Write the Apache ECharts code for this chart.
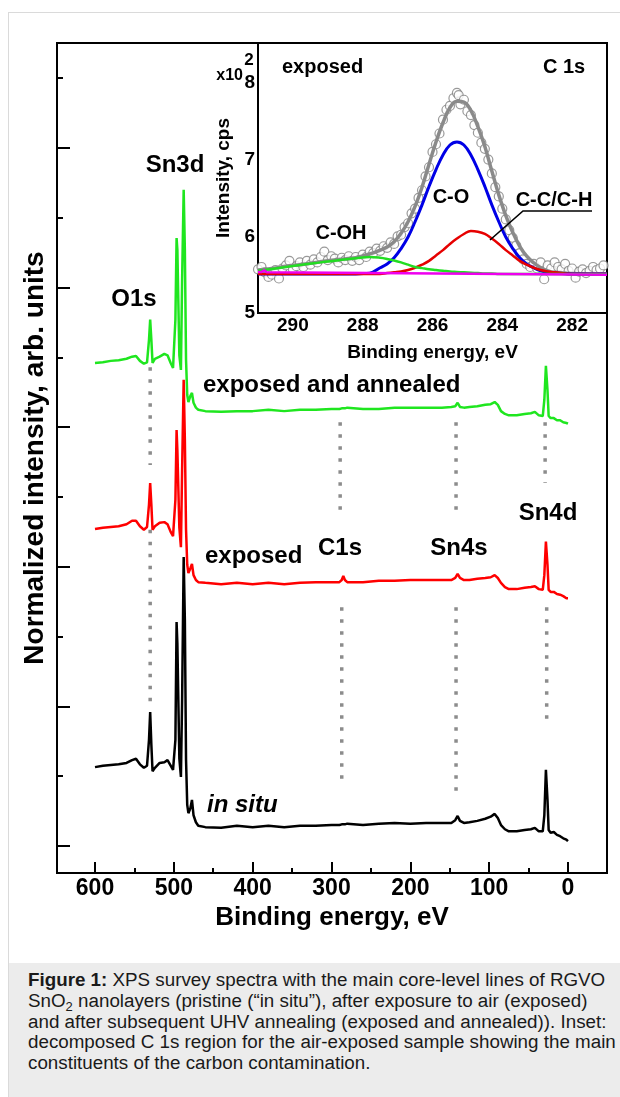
<!DOCTYPE html>
<html>
<head>
<meta charset="utf-8">
<script src="https://cdn.jsdelivr.net/npm/echarts@6/dist/echarts.min.js"></script>
<style>
  html, body { margin: 0; padding: 0; background: #fff; width: 620px; height: 1097px; overflow: hidden; }
  #frame { position: absolute; left: 8px; top: 12px; width: 640px; height: 1100px; border-top: 1px solid #dadada; border-left: 1px solid #dadada; }
  #chart { position: absolute; left: 0; top: 0; width: 620px; height: 960px; }
  #caption { position: absolute; left: 9px; top: 963px; width: 611px; height: 134px; background: #ececec;
    font-family: "Liberation Sans", Arial, sans-serif; font-size: 18.8px; line-height: 20.8px; color: #1a1a1a;
    padding: 7px 0 0 19px; box-sizing: border-box; white-space: nowrap; }
  #caption sub { font-size: 13px; vertical-align: -4px; line-height: 0; }
</style>
</head>
<body>
<div id="frame"></div>
<div id="chart"></div>
<div id="caption"><b>Figure 1:</b> XPS survey spectra with the main core-level lines of RGVO<br>SnO<sub>2</sub> nanolayers (pristine (“in situ”), after exposure to air (exposed)<br>and after subsequent UHV annealing (exposed and annealed)). Inset:<br>decomposed C 1s region for the air-exposed sample showing the main<br>constituents of the carbon contamination.</div>
<script>
// ---------------- DATA ----------------
// Survey spectra: binding energy (eV)
const energy = [600,590,580,570,560,553,548,543,538,534,531.5,530,528.5,527,524,518,512,508,504,501,498,496.5,495.5,493,491,489.5,487.5,486,484.5,483,481.5,479,477,475,472,469,460,440,420,400,380,360,340,320,300,290,287,285,283,280,260,240,220,200,180,160,148,143,140,137,132,125,115,105,98,93,89,85,80,75,65,55,47,42,37,32,30,28,26,24.5,22,18,14,10,6,2,0];
// normalized intensity (stacked, arb. units)
const inSitu = [1.13,1.15,1.16,1.17,1.19,1.23,1.25,1.17,1.12,1.15,1.52,1.92,1.45,1.07,1.12,1.19,1.20,1.23,1.15,1.09,1.52,3.21,2.90,1.25,0.99,2.09,4.14,3.24,1.23,0.59,0.47,0.54,0.66,0.44,0.34,0.29,0.27,0.26,0.29,0.27,0.29,0.27,0.29,0.29,0.30,0.30,0.31,0.31,0.31,0.32,0.30,0.32,0.33,0.32,0.33,0.33,0.33,0.37,0.43,0.36,0.33,0.34,0.36,0.39,0.42,0.46,0.40,0.30,0.24,0.21,0.21,0.23,0.24,0.26,0.21,0.21,0.44,1.09,0.66,0.23,0.19,0.20,0.16,0.14,0.11,0.09,0.07];
const exposed = [4.54,4.56,4.57,4.58,4.61,4.66,4.66,4.58,4.53,4.57,4.89,5.20,4.89,4.53,4.58,4.63,4.64,4.61,4.50,4.44,4.96,5.96,5.67,4.56,4.28,5.39,6.68,5.82,4.53,4.03,3.91,3.98,4.04,3.88,3.81,3.78,3.77,3.75,3.77,3.75,3.77,3.75,3.77,3.78,3.78,3.78,3.81,3.87,3.81,3.78,3.78,3.80,3.80,3.81,3.81,3.81,3.81,3.84,3.90,3.84,3.81,3.81,3.83,3.84,3.85,3.88,3.84,3.77,3.71,3.68,3.68,3.70,3.71,3.72,3.68,3.67,3.88,4.36,4.03,3.67,3.64,3.64,3.61,3.60,3.58,3.55,3.55];
const annealed = [6.92,6.93,6.95,6.96,6.98,7.01,7.02,6.95,6.91,6.93,7.25,7.54,7.25,6.92,6.98,7.01,7.05,7.03,6.92,6.85,7.54,8.71,8.54,7.03,6.82,8.11,9.40,8.54,6.96,6.46,6.36,6.45,6.49,6.35,6.28,6.25,6.23,6.22,6.23,6.23,6.25,6.23,6.25,6.25,6.26,6.26,6.27,6.27,6.27,6.28,6.26,6.26,6.28,6.28,6.28,6.28,6.29,6.30,6.35,6.29,6.28,6.29,6.30,6.32,6.33,6.36,6.32,6.23,6.19,6.17,6.17,6.19,6.20,6.22,6.17,6.16,6.39,6.88,6.53,6.16,6.13,6.13,6.10,6.10,6.07,6.06,6.05];
// core-level guide lines: [energy, from, to]
const guides = [[530,6.86,5.46],[530,4.53,2.05],[289,6.07,4.70],[287,3.42,0.87],[142,6.07,4.70],[142,3.42,0.70],[29,6.07,5.20],[27,3.42,1.70]];
const mainTicks = [0,100,200,300,400,500,600];
const mainMinorTicks = [50,150,250,350,450,550];
const yMajor = [0,2,4,6,8,10];
const yMinor = [1,3,5,7,9,11];

// Inset: C 1s region (exposed)
const c1sPoints = [[291.0,5.57],[290.9,5.60],[290.8,5.53],[290.7,5.47],[290.6,5.50],[290.5,5.56],[290.4,5.45],[290.3,5.58],[290.2,5.62],[290.1,5.68],[290.0,5.57],[289.9,5.61],[289.8,5.66],[289.7,5.60],[289.6,5.68],[289.5,5.63],[289.4,5.70],[289.3,5.66],[289.2,5.73],[289.1,5.80],[289.0,5.69],[288.9,5.74],[288.8,5.71],[288.7,5.66],[288.6,5.72],[288.5,5.69],[288.4,5.74],[288.3,5.68],[288.2,5.73],[288.1,5.69],[288.0,5.76],[287.9,5.73],[287.8,5.80],[287.7,5.78],[287.6,5.84],[287.5,5.81],[287.4,5.87],[287.3,5.85],[287.2,5.92],[287.1,5.90],[287.0,6.00],[286.9,6.02],[286.8,6.12],[286.7,6.17],[286.6,6.30],[286.5,6.36],[286.4,6.50],[286.3,6.60],[286.2,6.78],[286.1,6.90],[286.0,7.10],[285.9,7.20],[285.8,7.34],[285.7,7.52],[285.6,7.65],[285.5,7.70],[285.4,7.80],[285.3,7.87],[285.25,7.84],[285.2,7.72],[285.1,7.78],[285.0,7.63],[284.9,7.58],[284.8,7.45],[284.7,7.35],[284.6,7.22],[284.5,7.14],[284.4,7.00],[284.3,6.82],[284.2,6.64],[284.1,6.52],[284.0,6.36],[283.9,6.22],[283.8,6.08],[283.7,5.98],[283.6,5.88],[283.5,5.78],[283.4,5.70],[283.3,5.64],[283.2,5.60],[283.1,5.64],[283.0,5.58],[282.9,5.66],[282.8,5.44],[282.7,5.62],[282.6,5.58],[282.5,5.66],[282.4,5.60],[282.3,5.57],[282.2,5.64],[282.1,5.55],[282.0,5.58],[281.9,5.46],[281.8,5.54],[281.7,5.57],[281.6,5.52],[281.5,5.55],[281.4,5.60],[281.3,5.56],[281.2,5.58],[281.1,5.62]];
const fitEnergy = [291,290.6,290.2,289.8,289.4,289.0,288.6,288.2,287.8,287.5,287.3,287.1,286.9,286.7,286.5,286.3,286.1,285.9,285.7,285.5,285.3,285.1,284.9,284.7,284.5,284.3,284.1,283.9,283.7,283.5,283.3,283.1,282.9,282.7,282.5,282.0,281.5,281.0];
const fitEnvelope = [5.56,5.58,5.61,5.63,5.655,5.68,5.70,5.72,5.77,5.82,5.86,5.93,6.04,6.19,6.39,6.64,6.94,7.23,7.48,7.68,7.76,7.75,7.64,7.43,7.17,6.85,6.54,6.27,6.05,5.87,5.74,5.655,5.59,5.55,5.53,5.515,5.51,5.51];
const fitCO = [5.51,5.51,5.51,5.51,5.51,5.51,5.51,5.51,5.52,5.59,5.64,5.72,5.84,5.99,6.19,6.41,6.65,6.87,7.06,7.19,7.23,7.19,7.06,6.87,6.65,6.41,6.19,5.99,5.84,5.72,5.64,5.59,5.55,5.53,5.52,5.51,5.51,5.51];
const fitCC = [5.51,5.51,5.51,5.51,5.51,5.51,5.51,5.51,5.51,5.51,5.52,5.53,5.54,5.56,5.59,5.63,5.68,5.75,5.82,5.90,5.97,6.03,6.07,6.06,6.03,5.97,5.90,5.82,5.75,5.68,5.63,5.59,5.56,5.54,5.53,5.51,5.51,5.51];
const fitCOH = [5.55,5.575,5.60,5.625,5.65,5.67,5.695,5.715,5.73,5.72,5.705,5.685,5.66,5.63,5.60,5.585,5.57,5.56,5.55,5.54,5.535,5.53,5.525,5.52,5.515,5.515,5.51,5.51,5.51,5.51,5.51,5.51,5.51,5.51,5.51,5.505,5.505,5.505];
const baseEnergy = [291,290.9,290.82,290.75,281];
const baseValues = [5.535,5.535,5.56,5.53,5.50];
const insetTicks = [282,284,286,288,290];
const insetMinorTicks = [283,285,287,289];
const insetYTicks = [5,6,7,8];
const insetYMinor = [5.5,6.5,7.5];

// ---------------- CHART ----------------
const FONT = '"Liberation Sans", Arial, Helvetica, sans-serif';
const chart = echarts.init(document.getElementById('chart'), null, { renderer: 'canvas', width: 620, height: 960 });
const zip = (xs, ys) => xs.map((x, i) => [x, ys[i]]);

function lineSeries(name, xi, yi, data, color, width, z, smooth) {
  return { name, type: 'line', xAxisIndex: xi, yAxisIndex: yi, data, showSymbol: false, symbol: 'none',
    smooth: smooth || false, lineStyle: { color, width }, z: z || 3, silent: true, animation: false };
}

const series = [];
guides.forEach((g, i) => {
  series.push({ name: 'guide' + i, type: 'line', xAxisIndex: 0, yAxisIndex: 0, data: [[g[0], g[1]], [g[0], g[2]]],
    showSymbol: false, symbol: 'none', lineStyle: { color: '#8c8c8c', width: 3.5, type: [3.5, 8.5] }, z: 2, silent: true, animation: false });
});
series.push(lineSeries('in situ', 0, 0, zip(energy, inSitu), '#000000', 2.5, 4));
series.push(lineSeries('exposed', 0, 0, zip(energy, exposed), '#ff0000', 2.5, 4));
series.push(lineSeries('exposed and annealed', 0, 0, zip(energy, annealed), '#1fe61f', 2.5, 4));

series.push({ name: 'C 1s data', type: 'scatter', xAxisIndex: 2, yAxisIndex: 2, data: c1sPoints, symbol: 'circle', symbolSize: 9,
  itemStyle: { color: '#ffffff', borderColor: '#808080', borderWidth: 1.2 }, z: 5, silent: true, animation: false });
series.push(lineSeries('fit', 2, 2, zip(fitEnergy, fitEnvelope), '#8a8a8a', 3.5, 6, 0.4));
series.push(lineSeries('C-O', 2, 2, zip(fitEnergy, fitCO), '#0000e6', 3, 7, 0.4));
series.push(lineSeries('C-C/C-H', 2, 2, zip(fitEnergy, fitCC), '#e60000', 2.5, 7, 0.4));
series.push(lineSeries('C-OH', 2, 2, zip(fitEnergy, fitCOH), '#22dd22', 2.5, 7, 0.4));
series.push(lineSeries('baseline', 2, 2, zip(baseEnergy, baseValues), '#ee00ee', 2.5, 8, false));

const tickStyle = { color: '#000', width: 2 };
const bold = (size) => ({ fontFamily: FONT, fontWeight: 'bold', fontSize: size, color: '#000' });
const line = { show: true, onZero: false, lineStyle: tickStyle };
const noLine = { show: false, onZero: false };

const option = {
  animation: false,
  backgroundColor: 'transparent',
  grid: [
    { left: 57, top: 43, width: 550, height: 830, show: true, borderColor: '#000', borderWidth: 2, backgroundColor: 'transparent' },
    { left: 258, top: 43, width: 349, height: 270, show: true, borderColor: '#000', borderWidth: 2, backgroundColor: '#ffffff', z: 1 }
  ],
  xAxis: [
    { gridIndex: 0, type: 'value', min: -49.5, max: 648.2, inverse: true, position: 'bottom',
      axisLine: line, splitLine: { show: false },
      axisTick: { show: true, inside: true, length: 11, customValues: mainTicks, lineStyle: tickStyle },
      axisLabel: Object.assign({ show: true, customValues: mainTicks, margin: 4 }, bold(23)),
      name: 'Binding energy, eV', nameLocation: 'middle', nameGap: 29, nameTextStyle: bold(26) },
    { gridIndex: 0, type: 'value', min: -49.5, max: 648.2, inverse: true, position: 'bottom',
      axisLine: noLine, splitLine: { show: false }, axisLabel: { show: false },
      axisTick: { show: true, inside: true, length: 5, customValues: mainMinorTicks, lineStyle: tickStyle } },
    { gridIndex: 1, type: 'value', min: 281, max: 291, inverse: true, position: 'bottom',
      axisLine: line, splitLine: { show: false },
      axisTick: { show: true, inside: true, length: 10, customValues: insetTicks, lineStyle: tickStyle },
      axisLabel: Object.assign({ show: true, customValues: insetTicks, margin: 3 }, bold(19)),
      name: 'Binding energy, eV', nameLocation: 'middle', nameGap: 30, nameTextStyle: bold(19) },
    { gridIndex: 1, type: 'value', min: 281, max: 291, inverse: true, position: 'bottom',
      axisLine: noLine, splitLine: { show: false }, axisLabel: { show: false },
      axisTick: { show: true, inside: true, length: 6, customValues: insetMinorTicks, lineStyle: tickStyle } }
  ],
  yAxis: [
    { gridIndex: 0, type: 'value', min: -0.387, max: 11.504, position: 'left',
      axisLine: line, splitLine: { show: false },
      axisTick: { show: true, inside: true, length: 13, customValues: yMajor, lineStyle: tickStyle },
      axisLabel: { show: false },
      name: 'Normalized intensity, arb. units', nameLocation: 'middle', nameGap: 8, nameTextStyle: bold(28) },
    { gridIndex: 0, type: 'value', min: -0.387, max: 11.504, position: 'left',
      axisLine: noLine, splitLine: { show: false }, axisLabel: { show: false },
      axisTick: { show: true, inside: true, length: 6, customValues: yMinor, lineStyle: tickStyle } },
    { gridIndex: 1, type: 'value', min: 5, max: 8.52, position: 'left',
      axisLine: line, splitLine: { show: false },
      axisTick: { show: true, inside: true, length: 9, customValues: insetYTicks, lineStyle: tickStyle },
      axisLabel: Object.assign({ show: true, customValues: insetYTicks, margin: 3 }, bold(19)),
      name: 'Intensity, cps', nameLocation: 'middle', nameGap: 20, nameTextStyle: bold(19) },
    { gridIndex: 1, type: 'value', min: 5, max: 8.52, position: 'left',
      axisLine: noLine, splitLine: { show: false }, axisLabel: { show: false },
      axisTick: { show: true, inside: true, length: 5, customValues: insetYMinor, lineStyle: tickStyle } }
  ],
  series: series
};

function txt(text, x, y, size, align, extra) {
  return { type: 'text', x, y, z: 100, silent: true,
    style: { text, fill: '#000', font: (extra || 'bold') + ' ' + size + 'px ' + FONT,
      textAlign: align || 'center', align: align || 'center', textVerticalAlign: 'middle', verticalAlign: 'middle' } };
}
option.graphic = { elements: [
  txt('O1s', 134, 299, 24),
  txt('Sn3d', 175, 165, 24),
  txt('exposed and annealed', 203, 385, 24, 'left'),
  txt('exposed', 205, 556, 24, 'left'),
  txt('C1s', 340, 548, 24),
  txt('Sn4s', 459, 548, 24),
  txt('Sn4d', 548, 513, 24),
  txt('in situ', 207, 805, 24, 'left', 'italic bold'),
  txt('exposed', 282, 67, 20, 'left'),
  txt('C 1s', 543, 67, 20, 'left'),
  txt('C-OH', 341, 233, 20),
  txt('C-O', 451, 197, 20),
  txt('C-C/C-H', 554, 200, 20),
  txt('x10', 243, 76, 16, 'right'),
  txt('2', 249, 60, 17),
  { type: 'polyline', z: 100, silent: true, shape: { points: [[592, 211], [523, 211], [490, 240]] },
    style: { stroke: '#000', lineWidth: 1.6, fill: null } }
]};

chart.setOption(option);
</script>
</body>
</html>
